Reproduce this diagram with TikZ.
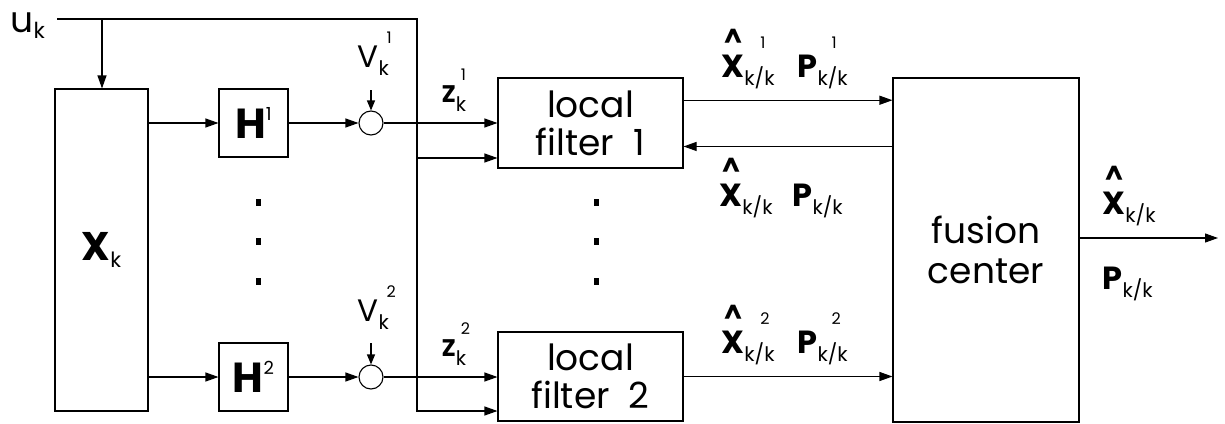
\documentclass[tikz,border=0pt]{standalone}
\usepackage{fontspec}
\setmainfont{Poppins}
\usetikzlibrary{arrows.meta,calc}
\newcommand{\fs}[1]{\fontsize{#1}{#1}\selectfont}
% #1 base, #2 sub, #3 sup, #4 sup hskip, #5 sub drop, #6 sup raise
\newcommand{\lab}[6]{#1\rlap{\raisebox{-#5}{\fs{20}\mdseries #2}}\hspace*{#4}\raisebox{#6}{\fs{16}\mdseries #3}}
\newcommand{\hx}{\setbox0\hbox{X}\rlap{\hbox to\wd0{\hss\raisebox{30pt}{\fs{26}\textasciicircum}\hss}}X}
\tikzset{
  blk/.style={draw, inner sep=0pt},
  sumc/.style={circle, draw, minimum size=24pt, inner sep=0pt},
  txt/.style={inner sep=0pt, anchor=base west},
  dotm/.style={fill=black},
}
\begin{document}
\begin{tikzpicture}[x=1pt, y=-1pt, line width=1.1pt,
  >={Triangle[length=13pt,width=9pt]}]
\useasboundingbox (0,0) rectangle (1225,423);
\fill[white] (0,0) rectangle (1225,423);
% blocks
\node[blk, minimum width=93pt, minimum height=322pt] (X) at (101.5,250)
  {\fs{40}\bfseries X\raisebox{-7pt}{\fs{21}\mdseries k}};
\node[blk, minimum width=69pt, minimum height=68pt] (H1) at (253.5,123)
  {\fs{42}\bfseries H\raisebox{18pt}{\fs{18}\mdseries 1}};
\node[blk, minimum width=69pt, minimum height=68pt] (H2) at (253.5,377)
  {\fs{42}\bfseries H\raisebox{18pt}{\fs{18}\mdseries 2}};
\node[sumc] (c1) at (371,123) {};
\node[sumc] (c2) at (371,377) {};
\node[blk, minimum width=185pt, minimum height=90pt, align=center,
  font=\fontsize{36}{38}\selectfont] (f1) at (590.5,123) {local\\filter\ \ 1};
\node[blk, minimum width=185pt, minimum height=89pt, align=center,
  font=\fontsize{36}{38}\selectfont] (f2) at (590.5,376.5) {local\\filter\ \ 2};
\node[blk, minimum width=186pt, minimum height=344pt, align=center,
  font=\fontsize{36}{40}\selectfont] (fc) at (986,250) {fusion\\center};
% input u_k
\node[txt] (ul) at (10,32) {\fs{36}u\raisebox{-6pt}{\fs{22}k}};
\coordinate (ua) at (57,19);
\coordinate (ub) at (417,19);
\coordinate (uc) at (417,411);
\coordinate (ud) at (102,19);
\coordinate (ue) at (417,158);
\draw[->] (ua) -- (ub) -- (uc) -- (uc -| f2.west);
\draw[->] (ud) -- (ud |- X.north);
\draw[->] (ue) -- (ue -| f1.west);
% measurement chains
\draw[->] (X.east |- H1.west) -- (H1.west);
\draw[->] (X.east |- H2.west) -- (H2.west);
\draw[->] (H1.east) -- (c1.west);
\draw[->] (H2.east) -- (c2.west);
\draw[->] (c1.east) -- (c1.east -| f1.west);
\draw[->] (c2.east) -- (c2.east -| f2.west);
\coordinate (v1) at (371,90);
\coordinate (v2) at (371,343);
\draw[->, >={Triangle[length=10pt,width=8pt]}] (v1) -- (c1.north);
\draw[->, >={Triangle[length=10pt,width=8pt]}] (v2) -- (c2.north);
\node[txt] (V1) at (357,67) {\fs{31}\lab{V}{k}{1}{8pt}{8pt}{24pt}};
\node[txt] (V2) at (357,321) {\fs{31}\lab{V}{k}{2}{8pt}{8pt}{24pt}};
\node[txt] (Z1) at (441,102) {\fs{24}\bfseries\lab{Z}{k}{1}{5pt}{9pt}{22pt}};
\node[txt] (Z2) at (441,356) {\fs{24}\bfseries\lab{Z}{k}{2}{5pt}{9pt}{22pt}};
% dots
\foreach \yy in {202,241,281} {
  \fill[dotm] (255.5,\yy-3.5) rectangle (260.5,\yy+3.5);
  \fill[dotm] (593.5,\yy-3.5) rectangle (598.5,\yy+3.5);
}
% local filters to fusion center
\coordinate (p1) at ($(f1.north east)!0.25!(f1.south east)$);
\coordinate (p2) at ($(fc.north west)!0.2!(fc.south west)$);
\draw[->] (p1) -- (p1 -| fc.west);
\draw[->] (p2) -- (p2 -| f1.east);
\draw[->] (f2.east) -- (f2.east -| fc.west);
\node[txt] (xh1) at (721,77) {\fs{32}\bfseries\lab{\hx}{k/k}{1}{16pt}{8pt}{29pt}};
\node[txt] (P1) at (797,77) {\fs{32}\bfseries\lab{P}{k/k}{1}{14pt}{8pt}{29pt}};
\node[txt] (xh) at (719,206) {\fs{32}\bfseries\lab{\hx}{k/k}{}{0pt}{8pt}{29pt}};
\node[txt] (P) at (792,206) {\fs{32}\bfseries\lab{P}{k/k}{}{0pt}{8pt}{29pt}};
\node[txt] (xh2) at (721,353) {\fs{32}\bfseries\lab{\hx}{k/k}{2}{16pt}{8pt}{29pt}};
\node[txt] (P2) at (797,353) {\fs{32}\bfseries\lab{P}{k/k}{2}{14pt}{8pt}{29pt}};
% output
\coordinate (o1) at ($(fc.east)+(0,-12)$);
\coordinate (out) at (1218,238);
\draw[->] (o1) -- (out);
\node[txt] (xo) at (1102,214) {\fs{32}\bfseries\lab{\hx}{k/k}{}{0pt}{8pt}{29pt}};
\node[txt] (Po) at (1102,289) {\fs{32}\bfseries\lab{P}{k/k}{}{0pt}{8pt}{29pt}};
\end{tikzpicture}
\end{document}
